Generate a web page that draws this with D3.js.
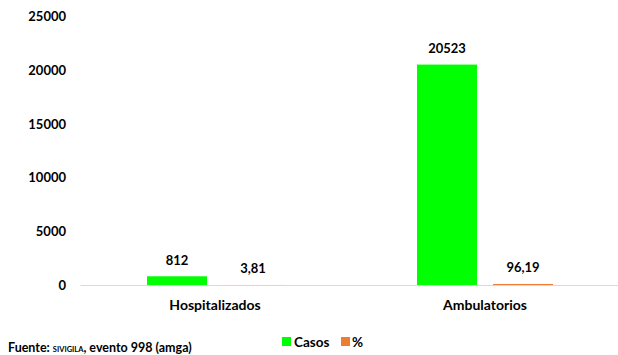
<!DOCTYPE html>
<html><head><meta charset="utf-8">
<script src="https://cdn.jsdelivr.net/npm/d3@7"></script>
<style>body{margin:0;background:#fff}svg{display:block}text{font-family:Lato,"Open Sans",sans-serif;font-weight:bold;fill:#000}</style>
</head><body>
<script>
const categories = ["Hospitalizados", "Ambulatorios"];
const seriesNames = ["Casos", "%"];
const casos = [812, 20523];
const porcentaje = [3.81, 96.19];
const pctLabels = ["3,81", "96,19"];
const yTicks = [0, 5000, 10000, 15000, 20000, 25000];
const colors = ["#00ff00", "#ed7d31"];

const W = 618, H = 355;
const svg = d3.select("body").append("svg").attr("width", W).attr("height", H);
const m = {l: 80, r: -2, t: 16.5, b: 70};
const x = d3.scaleBand().domain(categories).range([m.l, W - m.r]);
const x1 = d3.scaleBand().domain(seriesNames).range([67, 203]).paddingInner(0.21).paddingOuter(0);
const y = d3.scaleLinear().domain([0, 25000]).range([285, m.t]);

// y axis labels
const ya = svg.append("g").attr("transform", `translate(${m.l},0)`)
  .call(d3.axisLeft(y).tickValues(yTicks).tickSize(0).tickPadding(14).tickFormat(d3.format("d")));
ya.select(".domain").remove();
ya.selectAll("text").style("font-size", "13px").style("font-family", "Lato").style("font-weight", "bold");

// x axis baseline
const xa = svg.append("g").attr("transform", `translate(0,${y(0)})`)
  .call(d3.axisBottom(x).tickSize(0).tickPadding(15));
xa.select(".domain").attr("stroke", "#d9d9d9");
xa.selectAll("text").style("font-size", "14px").style("font-family", "Lato").style("font-weight", "bold");

const data = categories.map((c, i) => ({c, vals: [
  {s: "Casos", v: casos[i], label: String(casos[i])},
  {s: "%", v: porcentaje[i], label: pctLabels[i]}
]}));

const g = svg.append("g").selectAll("g").data(data).join("g")
  .attr("transform", d => `translate(${x(d.c)},0)`);
g.selectAll("rect").data(d => d.vals).join("rect")
  .attr("x", d => x1(d.s)).attr("width", x1.bandwidth())
  .attr("y", d => y(d.v)).attr("height", d => y(0) - y(d.v))
  .attr("fill", (d, i) => colors[i]);
g.selectAll("text.lbl").data(d => d.vals).join("text").attr("class", "lbl")
  .attr("x", d => x1(d.s) + x1.bandwidth() / 2)
  .attr("y", d => y(d.v) - 11.5)
  .attr("text-anchor", "middle").style("font-size", "13px")
  .text(d => d.label);

// legend
const lg = svg.append("g").attr("transform", "translate(282,337)");
lg.append("rect").attr("x", 0).attr("y", 0).attr("width", 9).attr("height", 9).attr("fill", colors[0]);
lg.append("text").attr("x", 12).attr("y", 10).style("font-size", "13.5px").text(seriesNames[0]);
lg.append("rect").attr("x", 59).attr("y", 0).attr("width", 9).attr("height", 9).attr("fill", colors[1]);
lg.append("text").attr("x", 70).attr("y", 10).style("font-size", "13.5px").text(seriesNames[1]);

// source
const src = svg.append("text").attr("x", 8).attr("y", 352).style("font-size", "12.5px");
src.append("tspan").text("Fuente: ");
src.append("tspan").style("font-size", "7.5px").text("SIVIGILA");
src.append("tspan").text(", evento 998 (amga)");
</script>
</body></html>
